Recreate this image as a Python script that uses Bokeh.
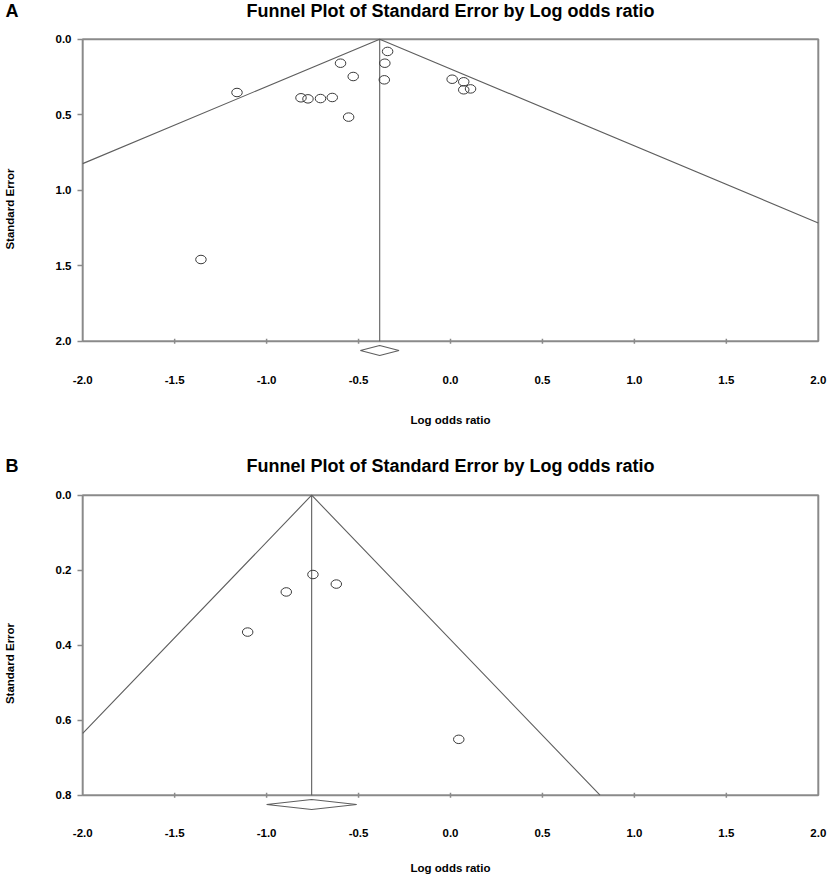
import math
from bokeh.plotting import figure
from bokeh.models import Range1d, FixedTicker, PrintfTickFormatter, Label
from bokeh.layouts import column
from bokeh.embed import file_html
from bokeh.resources import INLINE

TITLE = "Funnel Plot of Standard Error by Log odds ratio"
X_LABEL = "Log odds ratio"
Y_LABEL = "Standard Error"
x_ticks = [-2.0, -1.5, -1.0, -0.5, 0.0, 0.5, 1.0, 1.5, 2.0]

# Panel A
lor_a = [-0.342, -0.357, -0.360, -0.598, -0.529, -1.161, -0.813, -0.775,
         -0.707, -0.643, -0.554, -1.357, 0.009, 0.072, 0.072, 0.109]
se_a = [0.081, 0.159, 0.269, 0.159, 0.247, 0.353, 0.388, 0.395,
        0.393, 0.386, 0.516, 1.459, 0.265, 0.282, 0.335, 0.329]
pooled_a = -0.385
ci_a = [-0.49, -0.28]
y_ticks_a = [0.0, 0.5, 1.0, 1.5, 2.0]

# Panel B
lor_b = [-0.748, -0.621, -0.893, -1.103, 0.045]
se_b = [0.2115, 0.237, 0.258, 0.365, 0.651]
pooled_b = -0.755
ci_b = [-1.0, -0.51]
y_ticks_b = [0.0, 0.2, 0.4, 0.6, 0.8]

FONT = "Liberation Sans"
FRAME_COLOR = "#8a8a8a"
LINE_COLOR = "#5e5e5e"
PT_COLOR = "#3a3a3a"

WIDTH = 829
BORDER_LEFT = 79
BORDER_RIGHT = 10
FRAME_W = WIDTH - BORDER_LEFT - BORDER_RIGHT
X_RANGE = (-2.012, 2.012)


def header(letter, height, letter_mid, title_y):
    h = figure(width=WIDTH, frame_width=FRAME_W, frame_height=height,
               min_border_left=BORDER_LEFT, min_border_right=BORDER_RIGHT,
               min_border_top=0, min_border_bottom=0,
               x_range=Range1d(*X_RANGE), y_range=Range1d(height, 0),
               x_axis_location=None, y_axis_location="left",
               output_backend="svg", toolbar_location=None,
               background_fill_color="white", border_fill_color="white")
    h.outline_line_color = None
    h.grid.visible = False
    # panel letter, drawn as the single label of the left axis
    ax = h.yaxis[0]
    ax.ticker = FixedTicker(ticks=[letter_mid])
    ax.major_label_overrides = {letter_mid: letter}
    ax.axis_line_color = None
    ax.major_tick_line_color = None
    ax.minor_tick_line_color = None
    ax.major_tick_out = 0
    ax.major_tick_in = 0
    ax.major_label_standoff = 62
    ax.major_label_text_font = FONT
    ax.major_label_text_font_style = "bold"
    ax.major_label_text_font_size = "18px"
    ax.major_label_text_color = "black"
    # chart title, centred over the plot frame
    h.add_layout(Label(x=0.0, y=title_y, text=TITLE,
                       text_font=FONT, text_font_style="bold",
                       text_font_size="18px", text_baseline="alphabetic",
                       text_align="center", text_color="black"))
    return h


def panel(lor, se, pooled, ci, y_ticks, y_start, y_end, frame_h,
          border_top, border_bottom, diamond_off_px,
          tick_standoff, axis_label_standoff):
    p = figure(frame_width=FRAME_W, frame_height=frame_h,
               min_border_left=BORDER_LEFT, min_border_right=BORDER_RIGHT,
               min_border_top=border_top, min_border_bottom=border_bottom,
               x_range=Range1d(*X_RANGE),
               y_range=Range1d(y_start, y_end),
               output_backend="svg", toolbar_location=None,
               background_fill_color="white", border_fill_color="white")
    p.outline_line_color = None
    p.xgrid.visible = False
    p.ygrid.visible = False

    px_per_unit = frame_h / (y_start - y_end)
    se_max = y_ticks[-1]
    x_lo, x_hi = x_ticks[0], x_ticks[-1]

    # frame box
    p.quad(left=x_lo, right=x_hi, top=y_ticks[0], bottom=se_max,
           fill_color=None, line_color=FRAME_COLOR, line_width=2)
    # x tick marks on the box bottom
    p.scatter(x=x_ticks[1:-1], y=[se_max] * (len(x_ticks) - 2), marker="dash",
              angle=math.pi / 2, size=5, line_color=FRAME_COLOR, line_width=1.5)

    # funnel (95% pseudo confidence limits)
    se_left = min((pooled - x_lo) / 1.96, se_max)
    se_right = min((x_hi - pooled) / 1.96, se_max)
    xl = pooled - 1.96 * se_left
    xr = pooled + 1.96 * se_right
    p.line([xl, pooled, xr], [se_left, 0.0, se_right],
           line_color=LINE_COLOR, line_width=1.1)
    p.segment(x0=[pooled], y0=[0.0], x1=[pooled], y1=[se_max],
              line_color=LINE_COLOR, line_width=1.1)

    # studies
    p.ellipse(x=lor, y=se, width=10.5, height=8.5,
              width_units="screen", height_units="screen",
              fill_color=None, line_color=PT_COLOR, line_width=1)

    # summary diamond
    dy = se_max + diamond_off_px / px_per_unit
    dh = 5.0 / px_per_unit
    p.patch([ci[0], pooled, ci[1], pooled], [dy, dy - dh, dy, dy + dh],
            fill_color="white", line_color=LINE_COLOR, line_width=1.1)

    # axes
    p.xaxis.ticker = FixedTicker(ticks=x_ticks)
    p.xaxis.formatter = PrintfTickFormatter(format="%.1f")
    p.xaxis.axis_line_color = None
    p.xaxis.major_tick_line_color = None
    p.xaxis.minor_tick_line_color = None
    p.xaxis.major_label_standoff = tick_standoff
    p.xaxis.axis_label = X_LABEL
    p.xaxis.axis_label_standoff = axis_label_standoff

    p.yaxis.ticker = FixedTicker(ticks=y_ticks)
    p.yaxis.formatter = PrintfTickFormatter(format="%.1f")
    p.yaxis.axis_line_color = None
    p.yaxis.major_tick_line_color = FRAME_COLOR
    p.yaxis.major_tick_line_width = 1.5
    p.yaxis.major_tick_out = 3
    p.yaxis.major_tick_in = 2
    p.yaxis.minor_tick_line_color = None
    p.yaxis.major_label_standoff = 6
    p.yaxis.axis_label = Y_LABEL
    p.yaxis.axis_label_standoff = 37

    for ax in (p.xaxis[0], p.yaxis[0]):
        ax.major_label_text_font = FONT
        ax.major_label_text_font_style = "bold"
        ax.major_label_text_font_size = "11.5px"
        ax.major_label_text_color = "black"
        ax.axis_label_text_font = FONT
        ax.axis_label_text_font_style = "bold"
        ax.axis_label_text_font_size = "11.5px"
        ax.axis_label_text_color = "black"
    return p


ha = header("A", height=30, letter_mid=10.6, title_y=10.5)
pa = panel(lor_a, se_a, pooled_a, ci_a, y_ticks_a,
           y_start=2.2603, y_end=-0.0113, frame_h=343,
           border_top=7, border_bottom=57, diamond_off_px=9.3,
           tick_standoff=-11, axis_label_standoff=27)
hb = header("B", height=50, letter_mid=28.6, title_y=28.5)
pb = panel(lor_b, se_b, pooled_b, ci_b, y_ticks_b,
           y_start=0.9021, y_end=-0.0045, frame_h=340,
           border_top=6, border_bottom=45, diamond_off_px=9.3,
           tick_standoff=-11, axis_label_standoff=22)

layout = column(ha, pa, hb, pb, spacing=0)
open("out.html", "w").write(file_html(layout, INLINE))
